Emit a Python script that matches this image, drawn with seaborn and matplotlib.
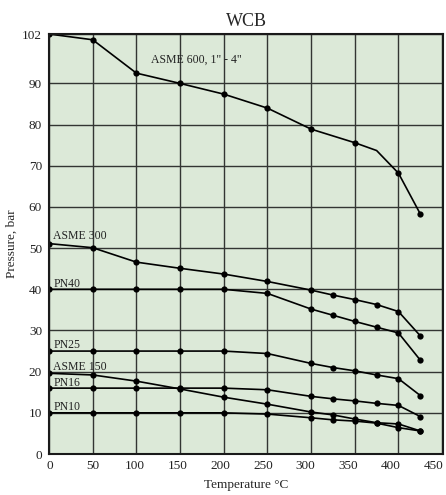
import numpy as np
import pandas as pd
import matplotlib
matplotlib.use('Agg')
import matplotlib.pyplot as plt
import seaborn as sns

# temperatures, degC
temps_full = [0, 50, 100, 150, 200, 250, 300, 325, 350, 375, 400, 425]
temps_600 = [0, 50, 100, 150, 200, 250, 300, 350, 375, 400, 425]

# pressures, bar
asme600 = [102, 100.6, 92.5, 90.0, 87.4, 84.0, 78.9, 75.6, 73.7, 68.2, 58.3]
asme300 = [51.1, 50.1, 46.6, 45.1, 43.7, 41.9, 39.8, 38.6, 37.5, 36.3, 34.6, 28.7]
pn40 = [40, 40, 40, 40, 40, 39.0, 35.2, 33.7, 32.2, 30.8, 29.4, 22.8]
pn25 = [25, 25, 25, 25, 25, 24.4, 22.0, 21.0, 20.2, 19.2, 18.3, 14.2]
asme150 = [19.6, 19.2, 17.7, 15.8, 13.8, 12.1, 10.2, 9.5, 8.5, 7.6, 7.3, 5.6]
pn16 = [16, 16, 16, 16, 16, 15.6, 14.0, 13.4, 12.9, 12.3, 11.8, 9.1]
pn10 = [10, 10, 10, 10, 10, 9.7, 8.8, 8.3, 8.0, 7.5, 6.4, 5.6]

x_ticks = [0, 50, 100, 150, 200, 250, 300, 350, 400, 450]
y_ticks = [0, 10, 20, 30, 40, 50, 60, 70, 80, 90, 102]

sns.set_theme(style='white')
plt.rcParams['font.family'] = ['Liberation Serif', 'DejaVu Serif']

fig = plt.figure(figsize=(4.46, 4.95), dpi=100)
ax = fig.add_axes([0.1099, 0.0828, 0.8834, 0.8485])
ax.set_facecolor('#dce9d8')

line_kw = dict(color='black', linewidth=1.2, marker='o', markersize=4.5,
               markeredgewidth=0, estimator=None)

# ASME 600 has a kink at 375 without a marker
sns.lineplot(x=temps_600, y=asme600, ax=ax,
             markevery=[i for i, t in enumerate(temps_600) if t != 375], **line_kw)
for series in [asme300, pn40, pn25, asme150, pn16, pn10]:
    sns.lineplot(x=temps_full, y=series, ax=ax, **line_kw)

ax.set_xlim(0, 451)
ax.set_ylim(0, 102)
# grid on the major ticks, the labels sit a little to the left (minor ticks)
ax.set_xticks(x_ticks, [''] * len(x_ticks))
ax.set_xticks([t * 0.975 + 1 for t in x_ticks], [str(t) for t in x_ticks], minor=True)
ax.set_yticks(y_ticks)
ax.grid(True, which='major', color='#333533', linewidth=1.0)
ax.set_axisbelow(True)
for s in ax.spines.values():
    s.set_color('#1a1a1a')
    s.set_linewidth(1.5)
ax.tick_params(which='both', length=0, labelsize=9.5, colors='#222222')
ax.tick_params(axis='y', pad=5)
ax.tick_params(axis='x', which='both', pad=4)

ax.set_title('WCB', fontsize=13, pad=6)
ax.set_xlabel('Temperature °C', fontsize=9.5, labelpad=5)
ax.set_ylabel('Pressure, bar', fontsize=9.5, labelpad=3)

lbl = dict(fontsize=8.5, color='#222222', va='center')
ax.text(117, 95.8, 'ASME 600, 1" - 4"', **lbl)
ax.text(5, 53.0, 'ASME 300', **lbl)
ax.text(5, 41.2, 'PN40', **lbl)
ax.text(5, 26.4, 'PN25', **lbl)
ax.text(5, 21.1, 'ASME 150', **lbl)
ax.text(5, 17.2, 'PN16', **lbl)
ax.text(5, 11.5, 'PN10', **lbl)

fig.savefig('out.png', dpi=100)
